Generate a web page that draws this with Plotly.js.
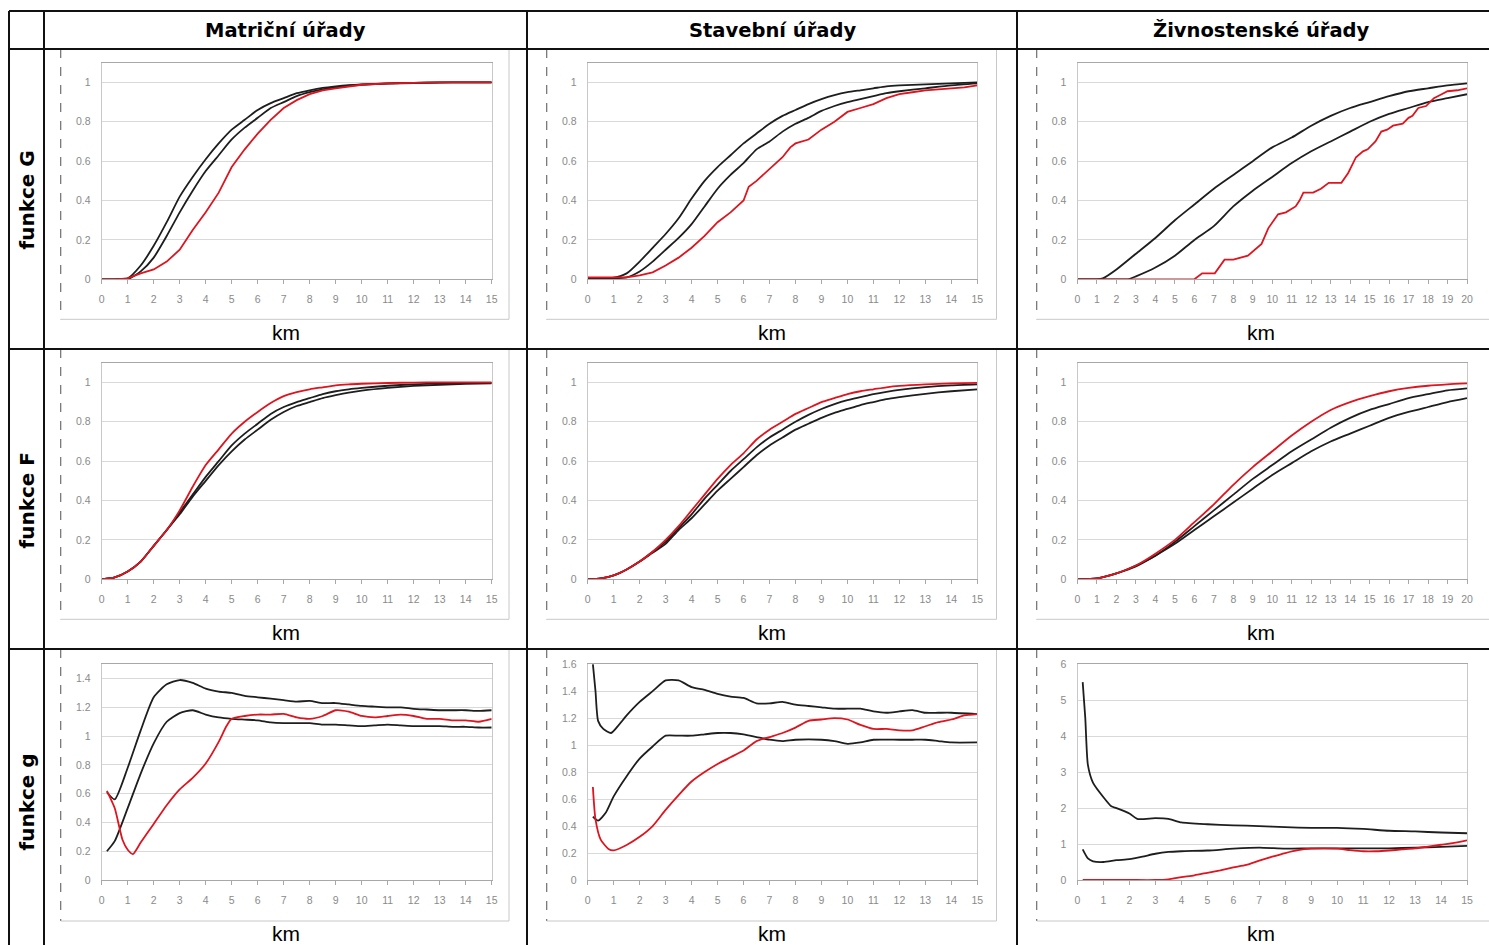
<!DOCTYPE html>
<html>
<head>
<meta charset="utf-8">
<script src="https://cdn.plot.ly/plotly-3.0.1.min.js"></script>
<style>
html,body{margin:0;padding:0;background:#fff;}
#chart{width:1489px;height:945px;}
</style>
</head>
<body>
<div id="chart"></div>
<script>
// ---------- labels ----------
const colTitles = ["Matriční úřady", "Stavební úřady", "Živnostenské úřady"];
const rowTitles = ["funkce G", "funkce F", "funkce g"];
const xAxisLabel = "km";

// ---------- Row 1: funkce G ----------
const matG_x   = [0,0.5,1,1.5,2,2.5,3,3.5,4,4.5,5,5.5,6,6.5,7,7.5,8,8.5,9,9.5,10,11,12,13,14,15];
const matG_hi  = [0,0,0.005,0.07,0.17,0.29,0.42,0.52,0.61,0.69,0.76,0.81,0.86,0.895,0.92,0.945,0.96,0.972,0.98,0.986,0.99,0.995,0.998,1,1,1];
const matG_lo  = [0,0,0,0.04,0.11,0.22,0.34,0.45,0.55,0.63,0.71,0.77,0.82,0.87,0.9,0.93,0.95,0.965,0.975,0.983,0.988,0.994,0.997,0.999,1,1];
const matG_obs = [0,0,0.005,0.03,0.05,0.09,0.15,0.25,0.34,0.44,0.57,0.66,0.74,0.81,0.87,0.91,0.94,0.96,0.97,0.98,0.988,0.995,0.998,1,1,1];

const staG_x   = [0,0.5,1,1.5,2,2.5,3,3.5,4,4.5,5,5.5,6,6.5,7,7.5,8,8.5,9,9.5,10,10.5,11,11.5,12,13,14,15];
const staG_hi  = [0.005,0.005,0.008,0.03,0.09,0.16,0.23,0.31,0.41,0.5,0.57,0.63,0.69,0.74,0.79,0.83,0.86,0.89,0.915,0.935,0.95,0.96,0.97,0.98,0.985,0.99,0.995,1];
const staG_lo  = [0.005,0.005,0.005,0.01,0.04,0.09,0.15,0.21,0.28,0.37,0.46,0.53,0.59,0.66,0.7,0.75,0.79,0.82,0.855,0.88,0.9,0.915,0.93,0.945,0.955,0.97,0.985,0.995];
const staG_obsx = [0,0.5,1,1.5,2,2.5,3,3.5,4,4.5,5,5.5,6,6.2,6.5,7,7.5,7.8,8,8.5,9,9.5,10,10.5,11,11.5,12,12.5,13,13.5,14,14.5,15];
const staG_obs  = [0.01,0.01,0.01,0.01,0.02,0.035,0.07,0.11,0.16,0.22,0.29,0.34,0.4,0.47,0.5,0.56,0.62,0.67,0.69,0.71,0.76,0.8,0.85,0.87,0.89,0.92,0.94,0.95,0.96,0.965,0.97,0.975,0.985];

const zivG_hix = [0,1,1.3,2,3,4,5,6,7,8,9,10,11,12,13,14,15,16,17,18,19,20];
const zivG_hi  = [0,0,0.005,0.05,0.13,0.21,0.3,0.38,0.46,0.53,0.6,0.67,0.72,0.78,0.83,0.87,0.9,0.93,0.955,0.97,0.985,0.995];
const zivG_lox = [0,1,2,2.6,3,4,5,6,7,8,9,10,11,12,13,14,15,16,17,18,19,20];
const zivG_lo  = [0,0,0,0,0.015,0.06,0.12,0.2,0.27,0.37,0.45,0.52,0.59,0.65,0.7,0.75,0.8,0.84,0.87,0.9,0.92,0.94];
const zivG_obsx = [0,6,6.4,7.05,7.55,8,8.75,9,9.45,9.8,10.3,10.7,11.2,11.4,11.6,12.1,12.5,12.9,13.55,13.9,14.3,14.66,14.9,15.3,15.6,15.9,16.2,16.7,17,17.2,17.5,17.9,18.3,18.6,19,19.5,20];
const zivG_obs  = [0,0,0.03,0.03,0.1,0.1,0.12,0.14,0.18,0.26,0.33,0.34,0.37,0.4,0.44,0.44,0.46,0.49,0.49,0.54,0.62,0.65,0.66,0.7,0.75,0.76,0.78,0.79,0.82,0.83,0.87,0.88,0.92,0.935,0.955,0.96,0.97];

// ---------- Row 2: funkce F ----------
const matF_x   = [0,0.5,1,1.5,2,2.5,3,3.5,4,4.5,5,5.5,6,6.5,7,7.5,8,8.5,9,9.5,10,11,12,13,14,15];
const matF_hi  = [0,0.01,0.04,0.09,0.17,0.25,0.34,0.43,0.52,0.6,0.68,0.74,0.79,0.84,0.875,0.9,0.92,0.94,0.955,0.965,0.972,0.983,0.99,0.995,0.997,0.998];
const matF_lo  = [0,0.01,0.04,0.09,0.17,0.25,0.33,0.42,0.5,0.58,0.65,0.71,0.76,0.81,0.85,0.88,0.9,0.92,0.935,0.948,0.958,0.972,0.982,0.988,0.992,0.995];
const matF_obs = [0,0.01,0.04,0.09,0.17,0.25,0.35,0.47,0.58,0.66,0.74,0.8,0.85,0.895,0.93,0.95,0.965,0.975,0.985,0.99,0.993,0.997,0.999,1,1,1];

const staF_x   = [0,0.5,1,1.5,2,2.5,3,3.5,4,4.5,5,5.5,6,6.5,7,7.5,8,8.5,9,9.5,10,10.5,11,11.5,12,13,14,15];
const staF_hi  = [0,0.005,0.02,0.05,0.09,0.14,0.19,0.26,0.33,0.41,0.48,0.55,0.61,0.67,0.72,0.76,0.8,0.835,0.865,0.89,0.91,0.925,0.94,0.952,0.962,0.976,0.985,0.99];
const staF_lo  = [0,0.005,0.02,0.05,0.09,0.135,0.18,0.25,0.31,0.38,0.45,0.51,0.57,0.63,0.68,0.72,0.76,0.79,0.82,0.845,0.865,0.885,0.9,0.915,0.925,0.942,0.955,0.965];
const staF_obs = [0,0.005,0.02,0.05,0.09,0.14,0.2,0.27,0.35,0.43,0.51,0.58,0.64,0.71,0.76,0.8,0.84,0.87,0.9,0.92,0.94,0.955,0.965,0.975,0.982,0.99,0.995,0.998];

const zivF_x   = [0,1,2,3,4,5,6,7,8,9,10,11,12,13,14,15,16,17,18,19,20];
const zivF_hi  = [0,0.005,0.03,0.07,0.12,0.19,0.27,0.35,0.43,0.51,0.58,0.65,0.71,0.77,0.82,0.86,0.89,0.92,0.94,0.96,0.97];
const zivF_lo  = [0,0.005,0.03,0.065,0.12,0.18,0.25,0.32,0.39,0.46,0.53,0.59,0.65,0.7,0.74,0.78,0.82,0.85,0.875,0.9,0.92];
const zivF_obs = [0,0.005,0.03,0.07,0.13,0.2,0.29,0.38,0.48,0.57,0.65,0.73,0.8,0.86,0.9,0.93,0.955,0.972,0.983,0.99,0.995];

// ---------- Row 3: funkce g ----------
const matg_x   = [0.2,0.5,1,1.5,2,2.5,3,3.5,4,4.5,5,5.5,6,6.5,7,7.5,8,8.5,9,9.5,10,10.5,11,11.5,12,12.5,13,13.5,14,14.5,15];
const matg_hi  = [0.61,0.56,0.78,1.04,1.27,1.36,1.39,1.37,1.33,1.31,1.3,1.28,1.27,1.26,1.25,1.24,1.245,1.23,1.23,1.22,1.21,1.205,1.2,1.2,1.19,1.185,1.18,1.18,1.18,1.175,1.18];
const matg_lo  = [0.2,0.27,0.5,0.74,0.95,1.1,1.16,1.18,1.15,1.13,1.12,1.115,1.11,1.095,1.09,1.09,1.09,1.08,1.08,1.075,1.07,1.075,1.08,1.075,1.07,1.07,1.07,1.065,1.065,1.06,1.06];
const matg_obsx = [0.2,0.5,0.8,1,1.2,1.5,2,2.5,3,3.5,4,4.5,4.8,5,5.5,6,6.5,7,7.5,8,8.5,9,9.5,10,10.5,11,11.5,12,12.5,13,13.5,14,14.5,15];
const matg_obs  = [0.62,0.5,0.28,0.21,0.18,0.26,0.39,0.52,0.63,0.71,0.81,0.96,1.07,1.12,1.14,1.15,1.15,1.155,1.13,1.12,1.14,1.18,1.17,1.14,1.13,1.14,1.15,1.14,1.12,1.12,1.11,1.11,1.1,1.12];

const stag_hix = [0.2,0.3,0.4,0.6,0.9,1.2,1.5,2,2.5,3,3.5,4,4.5,5,5.5,6,6.5,7,7.5,8,8.5,9,9.5,10,10.5,11,11.5,12,12.5,13,13.5,14,15];
const stag_hi  = [1.6,1.4,1.18,1.12,1.09,1.15,1.22,1.32,1.4,1.48,1.48,1.43,1.41,1.38,1.36,1.35,1.31,1.31,1.32,1.3,1.29,1.28,1.27,1.27,1.27,1.25,1.24,1.25,1.26,1.24,1.24,1.24,1.23];
const stag_lox = [0.2,0.4,0.7,1,1.5,2,2.5,3,3.5,4,4.5,5,5.5,6,6.5,7,7.5,8,9,9.5,10,10.5,11,12,12.5,13,13.5,14,15];
const stag_lo  = [0.47,0.44,0.5,0.62,0.77,0.9,0.99,1.07,1.07,1.07,1.08,1.09,1.09,1.08,1.06,1.04,1.03,1.04,1.04,1.03,1.01,1.02,1.04,1.04,1.04,1.04,1.03,1.02,1.02];
const stag_obsx = [0.2,0.3,0.5,0.8,1,1.5,2,2.5,3,3.5,4,4.5,5,5.5,6,6.5,7,7.5,8,8.5,9,9.5,10,10.5,11,11.5,12,12.5,13,13.5,14,14.5,15];
const stag_obs  = [0.69,0.45,0.3,0.23,0.22,0.26,0.32,0.4,0.52,0.63,0.73,0.8,0.86,0.91,0.96,1.03,1.06,1.09,1.13,1.18,1.19,1.2,1.19,1.15,1.12,1.12,1.11,1.11,1.14,1.17,1.19,1.22,1.23];

const zivg_hix = [0.2,0.3,0.4,0.6,1,1.3,1.5,2,2.3,3,3.5,4,5,6,7,8,9,10,11,12,13,14,15];
const zivg_hi  = [5.5,4.5,3.2,2.7,2.3,2.05,2.0,1.85,1.7,1.72,1.7,1.6,1.55,1.52,1.5,1.47,1.45,1.45,1.42,1.37,1.35,1.32,1.3];
const zivg_lox = [0.2,0.4,0.6,1,1.5,2,2.5,3,3.5,4,5,6,7,8,9,10,11,12,13,14,15];
const zivg_lo  = [0.85,0.6,0.52,0.5,0.55,0.58,0.65,0.73,0.78,0.8,0.82,0.87,0.9,0.87,0.88,0.88,0.88,0.88,0.9,0.92,0.95];
const zivg_obsx = [0.2,1,2,3,3.5,4,4.5,5,5.5,6,6.5,7,7.5,8,8.5,9,9.5,10,10.5,11,11.5,12,12.5,13,13.5,14,14.5,15];
const zivg_obs  = [0,0,0,0,0.02,0.08,0.13,0.2,0.27,0.35,0.42,0.54,0.65,0.75,0.83,0.87,0.88,0.87,0.83,0.8,0.8,0.82,0.85,0.88,0.93,0.98,1.03,1.1];

// ---------- panel definitions ----------
const panels = [
  {hi:[matG_x,matG_hi], lo:[matG_x,matG_lo], obs:[matG_x,matG_obs], xmax:15, yr:[0,1.1], dt:0.2, obsShape:'linear'},
  {hi:[staG_x,staG_hi], lo:[staG_x,staG_lo], obs:[staG_obsx,staG_obs], xmax:15, yr:[0,1.1], dt:0.2, obsShape:'linear'},
  {hi:[zivG_hix,zivG_hi], lo:[zivG_lox,zivG_lo], obs:[zivG_obsx,zivG_obs], xmax:20, yr:[0,1.1], dt:0.2, obsShape:'linear'},
  {hi:[matF_x,matF_hi], lo:[matF_x,matF_lo], obs:[matF_x,matF_obs], xmax:15, yr:[0,1.1], dt:0.2, obsShape:'spline'},
  {hi:[staF_x,staF_hi], lo:[staF_x,staF_lo], obs:[staF_x,staF_obs], xmax:15, yr:[0,1.1], dt:0.2, obsShape:'spline'},
  {hi:[zivF_x,zivF_hi], lo:[zivF_x,zivF_lo], obs:[zivF_x,zivF_obs], xmax:20, yr:[0,1.1], dt:0.2, obsShape:'spline'},
  {hi:[matg_x,matg_hi], lo:[matg_x,matg_lo], obs:[matg_obsx,matg_obs], xmax:15, yr:[0,1.5], dt:0.2, obsShape:'spline'},
  {hi:[stag_hix,stag_hi], lo:[stag_lox,stag_lo], obs:[stag_obsx,stag_obs], xmax:15, yr:[0,1.6], dt:0.2, obsShape:'spline'},
  {hi:[zivg_hix,zivg_hi], lo:[zivg_lox,zivg_lo], obs:[zivg_obsx,zivg_obs], xmax:15, yr:[0,6], dt:1, obsShape:'spline'}
];

// ---------- geometry (pixels) ----------
const W = 1489, H = 945;
const colPlot = [[101.7,491.7],[587.7,977.3],[1077.5,1467]];
const rowPlot = [[62.7,279.3],[362.7,579.3],[664.2,880]];
const px = v => v / W;
const py = v => 1 - v / H;

const BLACK = '#1e1e1e', RED = '#e0141e';
const data = [];
const layout = {
  width: W, height: H,
  margin: {l:0, r:0, t:0, b:0},
  paper_bgcolor: '#ffffff', plot_bgcolor: '#ffffff',
  showlegend: false,
  shapes: [], annotations: []
};

panels.forEach((p, i) => {
  const r = Math.floor(i / 3), c = i % 3;
  const n = i === 0 ? '' : String(i + 1);
  const xa = 'x' + n, ya = 'y' + n;
  const mk = (xy, color, shape) => ({
    type: 'scatter', mode: 'lines', x: xy[0], y: xy[1], xaxis: xa, yaxis: ya,
    line: {color: color, width: 1.8, shape: shape, smoothing: 0.6}, hoverinfo: 'skip'
  });
  data.push(mk(p.hi, BLACK, 'spline'));
  data.push(mk(p.lo, BLACK, 'spline'));
  data.push(mk(p.obs, RED, p.obsShape));

  const tickFont = {family: 'Liberation Sans, Arial, sans-serif', size: 10.5, color: '#8a8a8a'};
  layout['xaxis' + n] = {
    domain: [px(colPlot[c][0]), px(colPlot[c][1])],
    anchor: ya, range: [0, p.xmax], dtick: 1, tick0: 0,
    showgrid: false, zeroline: false,
    showline: true, linecolor: '#a8a8a8', linewidth: 1, mirror: true,
    ticks: 'outside', ticklen: 4, tickcolor: '#a8a8a8', tickwidth: 1,
    ticklabelstandoff: 6, tickfont: tickFont, fixedrange: true
  };
  layout['yaxis' + n] = {
    domain: [py(rowPlot[r][1]), py(rowPlot[r][0])],
    anchor: xa, range: p.yr, dtick: p.dt, tick0: 0,
    showgrid: true, gridcolor: '#d9d9d9', gridwidth: 1, zeroline: false,
    showline: true, linecolor: '#c8c8c8', linewidth: 1, mirror: true,
    ticks: '', ticklabelstandoff: 8, tickfont: tickFont, fixedrange: true
  };

  // km label
  layout.annotations.push({
    xref: 'paper', yref: 'paper',
    x: px((colPlot[c][0] + colPlot[c][1]) / 2 - 11), y: py(rowPlot[r][1] + 53),
    text: xAxisLabel, showarrow: false,
    font: {family: 'Liberation Sans, Arial, sans-serif', size: 21, color: '#000'},
    xanchor: 'center', yanchor: 'middle'
  });
});

// ---------- chart area borders ----------
const cellLeft = [60.7, 546.7, 1036.7];
const cellRight = [509, 996.5, null];
const cellTop = [49, 349, 649];
const cellBottom = [319.3, 619.3, 921];
function seg(x0, y0, x1, y1, color, width, dash) {
  layout.shapes.push({type: 'line', xref: 'paper', yref: 'paper',
    x0: px(x0), y0: py(y0), x1: px(x1), y1: py(y1),
    line: {color: color, width: width, dash: dash || 'solid'}, layer: 'above'});
}
for (let r = 0; r < 3; r++) {
  for (let c = 0; c < 3; c++) {
    const L = cellLeft[c], R = cellRight[c] === null ? W + 5 : cellRight[c];
    seg(L, cellTop[r], L, cellBottom[r], '#6e6e6e', 1.2, 'dash');
    seg(L, cellBottom[r], R, cellBottom[r], '#c8c8c8', 1);
    if (cellRight[c] !== null) seg(R, cellTop[r], R, cellBottom[r], '#c8c8c8', 1);
  }
}

// ---------- table grid ----------
[11, 49, 349, 649].forEach(y => seg(9, y, W, y, '#111', 2));
[9, 44, 527, 1017].forEach(x => seg(x, 11, x, H, '#111', 2));

// ---------- headers ----------
const headerX = [285.5, 772, 1261];
colTitles.forEach((t, i) => layout.annotations.push({
  xref: 'paper', yref: 'paper', x: px(headerX[i]), y: py(30),
  text: '<b>' + t + '</b>', showarrow: false,
  font: {family: 'DejaVu Sans, sans-serif', size: 19.5, color: '#000'},
  xanchor: 'center', yanchor: 'middle'
}));
const rowY = [200, 500, 802];
rowTitles.forEach((t, i) => layout.annotations.push({
  xref: 'paper', yref: 'paper', x: px(26.5), y: py(rowY[i]),
  text: '<b>' + t + '</b>', showarrow: false, textangle: -90,
  font: {family: 'DejaVu Sans, sans-serif', size: 20, color: '#000'},
  xanchor: 'center', yanchor: 'middle'
}));

Plotly.newPlot('chart', data, layout, {displayModeBar: false, staticPlot: true});
</script>
</body>
</html>
